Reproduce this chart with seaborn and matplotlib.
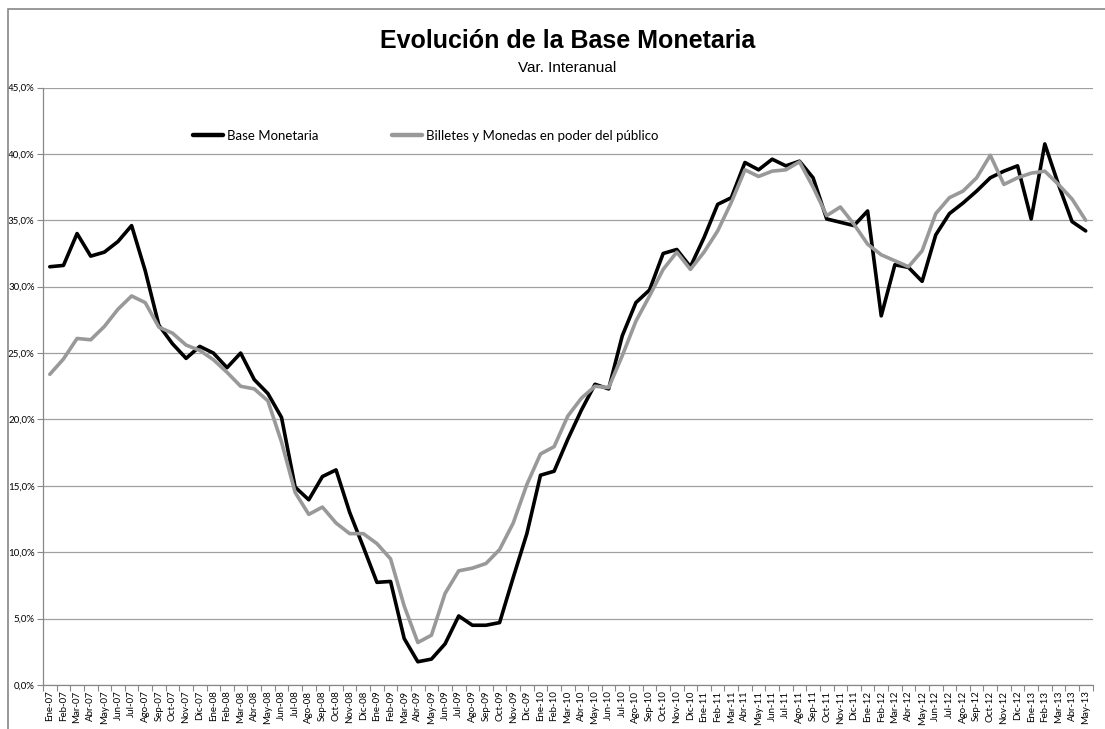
"""
Evolución de la Base Monetaria — variación interanual (Ene-07 a May-13).
Dos series: Base Monetaria y Billetes y Monedas en poder del público.
"""

import matplotlib
matplotlib.use("Agg")
import matplotlib.pyplot as plt
import matplotlib.ticker as mticker
from matplotlib.patches import Rectangle
import numpy as np
import pandas as pd
import seaborn as sns

# ---------------------------------------------------------------------------
# DATA (% y/y)
# ---------------------------------------------------------------------------
month_abbr = ["Ene", "Feb", "Mar", "Abr", "May", "Jun",
              "Jul", "Ago", "Sep", "Oct", "Nov", "Dic"]
years = ["07", "08", "09", "10", "11", "12", "13"]
months = [f"{m}-{y}" for y in years for m in month_abbr][:77]  # up to May-13

base_monetaria = [
    31.5, 31.6, 34.0, 32.3, 32.6, 33.4, 34.6, 31.2, 27.1, 25.7, 24.6, 25.5,   # 2007
    25.0, 23.9, 25.0, 23.0, 21.95, 20.15, 14.9, 13.95, 15.7, 16.2, 13.0, 10.4,  # 2008
    7.73, 7.8, 3.5, 1.75, 1.95, 3.1, 5.2, 4.5, 4.5, 4.7, 8.1, 11.4,          # 2009
    15.8, 16.1, 18.5, 20.7, 22.65, 22.3, 26.3, 28.8, 29.75, 32.5, 32.8, 31.5,  # 2010
    33.7, 36.2, 36.7, 39.35, 38.8, 39.6, 39.1, 39.45, 38.2, 35.1, 34.85, 34.6, # 2011
    35.7, 27.8, 31.65, 31.45, 30.4, 33.9, 35.5, 36.3, 37.2, 38.2, 38.7, 39.1,  # 2012
    35.1, 40.75, 37.7, 34.9, 34.2,                                           # 2013
]

billetes_monedas = [
    23.4, 24.55, 26.1, 26.0, 27.0, 28.3, 29.3, 28.8, 26.95, 26.5, 25.6, 25.2,  # 2007
    24.5, 23.55, 22.5, 22.3, 21.4, 18.3, 14.5, 12.85, 13.4, 12.2, 11.4, 11.4,  # 2008
    10.65, 9.5, 5.95, 3.2, 3.75, 6.9, 8.6, 8.8, 9.15, 10.2, 12.2, 15.1,       # 2009
    17.4, 17.95, 20.25, 21.6, 22.5, 22.4, 24.8, 27.4, 29.3, 31.3, 32.6, 31.3,  # 2010
    32.6, 34.2, 36.35, 38.8, 38.3, 38.7, 38.8, 39.4, 37.5, 35.35, 36.0, 34.7,  # 2011
    33.2, 32.4, 31.95, 31.5, 32.7, 35.5, 36.7, 37.2, 38.2, 39.9, 37.7, 38.2,   # 2012
    38.55, 38.7, 37.7, 36.6, 35.0,                                           # 2013
]

series_names = ["Base Monetaria", "Billetes y Monedas en poder del público"]
series_colors = ["#000000", "#999999"]

# long format for seaborn
pos = np.arange(len(months))
df = pd.concat([
    pd.DataFrame({"pos": pos, "valor": base_monetaria, "serie": series_names[0]}),
    pd.DataFrame({"pos": pos, "valor": billetes_monedas, "serie": series_names[1]}),
])

# ---------------------------------------------------------------------------
# PLOT
# ---------------------------------------------------------------------------
sns.set_style("white")
plt.rcParams["font.family"] = ["Lato", "DejaVu Sans"]
plt.rcParams["text.color"] = "black"
plt.rcParams["xtick.color"] = "black"
plt.rcParams["ytick.color"] = "black"

fig = plt.figure(figsize=(11.05, 7.29), dpi=100)
ax = fig.add_axes([43 / 1105, 1 - 685 / 729, (1092.5 - 43) / 1105, (685 - 87.5) / 729])

sns.lineplot(data=df, x="pos", y="valor", hue="serie", hue_order=series_names,
             palette=series_colors, linewidth=2.6, sort=False, ax=ax, zorder=3)

ax.set_xlim(-0.5, len(months) - 0.5)
ax.set_ylim(0, 45)
ax.set_yticks(np.arange(0, 46, 5))
ax.yaxis.set_major_formatter(mticker.FuncFormatter(lambda v, _: f"{v:.1f}%".replace(".", ",")))
ax.yaxis.grid(True, color="#a0a0a0", linewidth=0.9)
ax.set_axisbelow(True)

# category labels centred, tick marks between categories (Excel style)
ax.set_xticks(pos)
ax.set_xticklabels(months, rotation=90)
ax.set_xticks(np.arange(-0.5, len(months), 1), minor=True)
ax.tick_params(axis="x", which="major", length=0, labelsize=7, pad=4)
ax.tick_params(axis="x", which="minor", length=4, color="#888888", width=0.8, bottom=True)
ax.tick_params(axis="y", length=4, color="#888888", labelcolor="black", width=0.8,
               labelsize=7, left=True, pad=2)

for side in ["top", "right"]:
    ax.spines[side].set_visible(False)
for side in ["left", "bottom"]:
    ax.spines[side].set_color("#888888")
    ax.spines[side].set_linewidth(0.9)

ax.set_xlabel("")
ax.set_ylabel("")

handles, labels = ax.get_legend_handles_labels()
for h in handles:
    h.set_linewidth(3.2)
ax.legend(handles, labels, ncol=2, frameon=False, fontsize=9.5,
          loc="center left", bbox_to_anchor=(150 / 1049.5, 1 - (136 - 87.5) / 597.5),
          handlelength=2.3, handletextpad=0.25, columnspacing=5.6,
          borderaxespad=0, borderpad=0)

# titles
fig.text(567.5 / 1105, 1 - 41 / 729, "Evolución de la Base Monetaria",
         ha="center", va="center", fontsize=18, fontweight="bold", color="black",
         family=["Liberation Sans", "DejaVu Sans"])
fig.text(567.5 / 1105, 1 - 68 / 729, "Var. Interanual",
         ha="center", va="center", fontsize=11, color="black",
         family=["Liberation Sans", "DejaVu Sans"])

# outer chart frame
fig.add_artist(Rectangle((8 / 1105, -0.05), 1.2, 1.05 - 9 / 729,
                         transform=fig.transFigure, fill=False,
                         edgecolor="#888888", linewidth=1.2))

fig.savefig("out.png", dpi=100)
